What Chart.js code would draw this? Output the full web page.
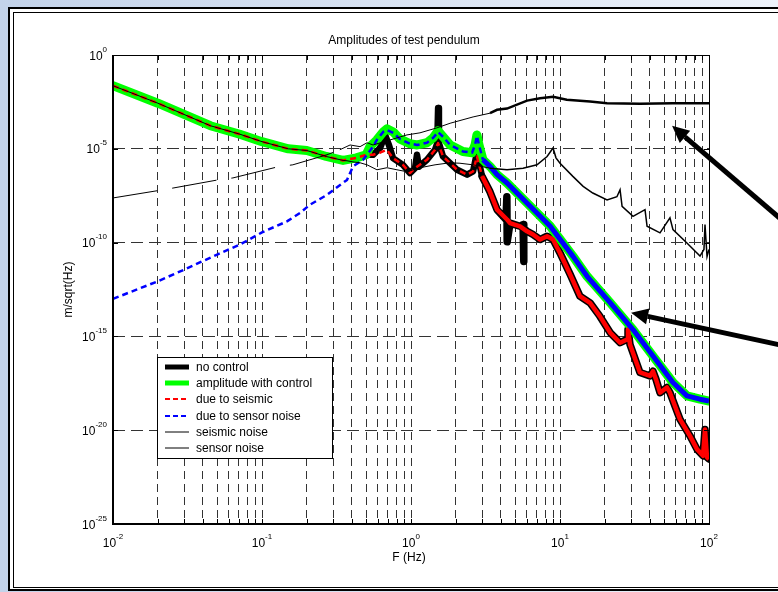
<!DOCTYPE html>
<html>
<head>
<meta charset="utf-8">
<script src="https://cdn.jsdelivr.net/npm/chart.js@4"></script>
<style>
  html, body { margin: 0; padding: 0; background: #fff; }
  #wrap { width: 778px; height: 592px; }
</style>
</head>
<body>
<div id="wrap"><canvas id="chart" width="778" height="592"></canvas></div>
<script>
/* ---- axes / ticks ---- */
const xDecades = [0.01, 0.1, 1, 10, 100];
const xExponents = ['-2', '-1', '0', '1', '2'];
const yDecades = [1, 1e-5, 1e-10, 1e-15, 1e-20, 1e-25];
const yExponents = ['0', '-5', '-10', '-15', '-20', '-25'];
const minorSteps = [1, 2, 3, 4, 5, 6, 7, 8, 9];

/* ---- data (F in Hz, amplitude in m/sqrt(Hz)) ---- */
// low-frequency part, where all seismic-driven curves coincide
const lowF = [0.01, 0.02, 0.045, 0.071, 0.1, 0.15, 0.2, 0.27, 0.35, 0.43, 0.5];
const lowA = [2.3e-2, 2.7e-3, 1.7e-4, 6.0e-5, 2.4e-5, 1.0e-5, 8.1e-6, 3.9e-6, 2.4e-6, 3.3e-6, 4.8e-6];

const noControlF = [0.556, 0.62, 0.67, 0.711, 0.757, 0.883, 0.984, 1.064, 1.097, 1.13, 1.28, 1.45, 1.50, 1.52, 1.54, 1.64, 2.04, 2.38, 2.61, 2.77, 3.0,
  3.39, 3.78, 4.34, 4.40, 4.42, 4.62, 5.39, 5.65, 5.70, 5.73, 6.01, 6.59, 7.35, 8.19, 8.98, 10, 11.7, 13.6, 15.9, 18.5,
  21.7, 25.3, 28.2, 28.6, 29.5, 34.4, 40.2, 42.1, 44.1, 46.9, 52.2, 54.7, 63.8, 74.5, 83.0, 91.2, 94.0, 97.0, 100];
const noControlA = [4.8e-6, 1.1e-5, 5.5e-5, 1.6e-5, 3.2e-6, 1.4e-6, 5.1e-7, 9.3e-7, 4.8e-6, 1.1e-6, 2.6e-6, 8.9e-6, 2.0e-5, 1.5e-3, 2.0e-5, 3.9e-6, 7.6e-7, 4.2e-7, 6.2e-7, 6.2e-6, 3.4e-7,
  5.1e-8, 5.7e-9, 1.7e-9, 2.8e-8, 1.1e-10, 1.1e-9, 7.4e-10, 9.1e-10, 9.8e-12, 5.5e-10, 4.0e-10, 2.7e-10, 1.45e-10, 2.2e-10, 1.45e-10, 2.8e-11, 2.0e-12, 1.4e-13, 6.2e-14, 1.2e-14,
  1.6e-15, 4.6e-16, 6.9e-16, 2.3e-15, 3.7e-16, 1.2e-17, 7.8e-18, 1.4e-17, 5.1e-18, 1.0e-18, 1.9e-18, 1.0e-18, 3.9e-20, 5.0e-21, 9.8e-22, 4.3e-22, 1.1e-20, 3.6e-22, 2.9e-22];

const withControlF = [0.53, 0.59, 0.65, 0.69, 0.76, 0.84, 0.98, 1.1, 1.28, 1.41, 1.52, 1.64, 1.83, 2.23, 2.57, 2.69, 2.77, 2.86, 3.04, 3.39,
  3.78, 4.41, 6.0, 8.6, 12.2, 15.2, 21.7, 30.9, 42.1, 57.3, 71.1, 87, 100];
const withControlA = [1.3e-5, 3.0e-5, 7.9e-5, 1.15e-4, 7.9e-5, 3.4e-5, 1.9e-5, 1.6e-5, 2.1e-5, 3.9e-5, 9.1e-5, 4.4e-5, 1.6e-5, 7.2e-6, 6.2e-6, 1.6e-5, 5.5e-5, 1.6e-5, 2.6e-6, 1.15e-6,
  4.2e-7, 1.5e-7, 1.3e-8, 7.4e-10, 1.9e-11, 1.6e-12, 6.3e-14, 2.3e-15, 8.9e-17, 3.5e-18, 6.8e-19, 4.5e-19, 3.6e-19];

const seismicDueF = [0.556, 0.62, 0.69, 0.757, 0.883, 0.984, 1.064, 1.28, 1.45, 1.52, 1.64, 2.04, 2.38, 2.61, 2.77, 3.0, 3.39, 3.78, 4.41, 4.62,
  5.39, 6.01, 6.59, 7.35, 8.19, 8.98, 10, 11.7, 13.6, 15.9, 18.5, 21.7, 25.3, 28.2, 28.6, 29.5, 34.4, 40.2, 42.1, 44.1,
  46.9, 52.2, 54.7, 63.8, 74.5, 83.0, 91.2, 94.0, 97.0, 100];
const seismicDueA = [4.8e-6, 6.2e-6, 8.9e-6, 3.2e-6, 1.4e-6, 5.1e-7, 9.3e-7, 2.6e-6, 8.9e-6, 2.0e-5, 3.9e-6, 7.6e-7, 4.2e-7, 6.2e-7, 3.9e-6, 3.4e-7, 5.1e-8, 5.7e-9, 1.7e-9, 1.1e-9,
  7.4e-10, 4.0e-10, 2.7e-10, 1.45e-10, 2.2e-10, 1.45e-10, 2.8e-11, 2.0e-12, 1.4e-13, 6.2e-14, 1.2e-14, 1.6e-15, 4.6e-16, 6.9e-16, 2.3e-15, 3.7e-16, 1.2e-17, 7.8e-18, 1.4e-17, 5.1e-18,
  1.0e-18, 1.9e-18, 1.0e-18, 3.9e-20, 5.0e-21, 9.8e-22, 4.3e-22, 1.1e-20, 3.6e-22, 2.9e-22];

const sensorDueF = [0.01, 0.02, 0.03, 0.05, 0.071, 0.1, 0.147, 0.18, 0.21, 0.273, 0.372, 0.408, 0.477, 0.556, 0.59, 0.65, 0.69, 0.76, 0.84, 0.98,
  1.1, 1.28, 1.41, 1.52, 1.64, 1.83, 2.23, 2.57, 2.69, 2.77, 2.86, 3.04, 3.39, 3.78, 4.41, 6.0, 8.6, 12.2, 15.2, 21.7,
  30.9, 42.1, 57.3, 71.1, 87, 100];
const sensorDueA = [1.0e-13, 8.7e-13, 3.6e-12, 2.3e-11, 7.8e-11, 3.5e-10, 1.35e-9, 3.8e-9, 1.05e-8, 3.5e-8, 2.2e-7, 1.15e-6, 2.6e-6, 1.3e-5, 3.0e-5, 7.9e-5, 1.0e-4, 7.1e-5, 3.4e-5, 1.9e-5,
  1.6e-5, 2.1e-5, 3.9e-5, 7.9e-5, 4.4e-5, 1.6e-5, 7.2e-6, 6.2e-6, 1.6e-5, 4.9e-5, 1.6e-5, 2.6e-6, 1.15e-6, 4.2e-7, 1.5e-7, 1.3e-8, 7.4e-10, 1.9e-11, 1.6e-12, 6.3e-14,
  2.3e-15, 8.9e-17, 3.5e-18, 6.8e-19, 4.5e-19, 3.6e-19];

const seismicNoiseF = [0.372, 0.408, 0.455, 0.507, 0.591, 0.69, 0.805, 0.94, 1.149, 1.45, 1.83, 2.13, 2.61, 3.39, 4.41, 5.65, 7.01, 8.19, 8.98, 9.4,
  10, 12.2, 14.3, 16.6, 20.7, 24.1, 25.3, 26.1, 30.9, 37.2, 38.4, 46.9, 54.7, 57.3, 71.1, 87.0, 92.5, 94.0, 97.0, 100];
const seismicNoiseA = [2.3e-6, 2.0e-6, 1.8e-6, 1.4e-6, 7.6e-7, 9.8e-7, 7.6e-7, 6.0e-7, 9.8e-7, 1.4e-6, 1.8e-6, 1.7e-6, 1.4e-6, 9.3e-7, 7.6e-7, 9.3e-7, 1.4e-6, 3.9e-6, 1.1e-5, 3.3e-6,
  1.7e-6, 3.4e-7, 1.0e-7, 4.4e-8, 1.9e-8, 2.8e-8, 6.6e-8, 8.5e-9, 2.5e-9, 5.7e-9, 7.4e-10, 3.3e-10, 2.1e-9, 4.9e-10, 9.5e-11, 1.9e-11, 4.3e-11, 9.1e-10, 1.8e-11, 4.3e-11];

const sensorNoiseF = [0.01, 0.02, 0.0253, 0.0506, 0.0638, 0.128, 0.161, 0.273, 0.333, 0.39, 0.455, 0.507, 0.556, 0.94, 1.149, 1.49, 1.83, 2.61, 3.39, 3.78,
  4.41, 6.01, 7.35, 8.98, 11.1, 15.9, 20.7, 34.4, 57.3, 100];
const sensorNoiseA = [2.4e-8, 5.9e-8, 8.1e-8, 2.2e-7, 2.8e-7, 1.1e-6, 1.4e-6, 4.8e-6, 8.9e-6, 1.6e-5, 1.3e-5, 2.1e-5, 1.6e-5, 5.5e-5, 7.1e-5, 1.3e-4, 2.3e-4, 5.0e-4, 7.9e-4, 1.2e-3,
  1.4e-3, 3.7e-3, 5.0e-3, 6.0e-3, 4.1e-3, 3.3e-3, 2.7e-3, 2.5e-3, 2.7e-3, 2.7e-3];

// annotation arrows: [tail F, tail A, tip F, tip A]
const arrowSensor = [350, 6.8e-10, 56.5, 1.67e-4];
const arrowControl = [350, 2.7e-16, 30, 1.8e-14];

/* ---- style helpers ---- */
const FONT = '"Liberation Sans", Arial, sans-serif';
const NOISY_FROM = 3;   // above ~3 Hz the measured traces are dense/noisy and look thicker
const pts = (f, a) => f.map((v, i) => ({ x: v, y: a[i] }));
const hi = (ctx) => ctx.p0.parsed.x >= NOISY_FROM;

const legendSamples = [
  { width: 5, dash: [] },
  { width: 5, dash: [] },
  { width: 2, dash: [5, 3] },
  { width: 2, dash: [5, 3] },
  { width: 1, dash: [] },
  { width: 1, dash: [] },
];

const datasets = [
  {
    label: 'no control', data: pts(lowF.concat(noControlF), lowA.concat(noControlA)),
    borderColor: '#000000', order: 6, borderJoinStyle: 'round', borderCapStyle: 'round',
    segment: { borderWidth: ctx => hi(ctx) ? 7.5 : 6.5 },
  },
  {
    label: 'amplitude with control', data: pts(lowF.concat(withControlF), lowA.concat(withControlA)),
    borderColor: '#00ff00', borderWidth: 9, order: 5, borderJoinStyle: 'round', borderCapStyle: 'round',
  },
  {
    label: 'due to seismic', data: pts(lowF.concat(seismicDueF), lowA.concat(seismicDueA)),
    borderColor: '#ff0000', order: 4, borderJoinStyle: 'round',
    segment: { borderWidth: ctx => hi(ctx) ? 4.5 : 2.5, borderDash: ctx => hi(ctx) ? [] : [6, 4] },
  },
  {
    label: 'due to sensor noise', data: pts(sensorDueF, sensorDueA),
    borderColor: '#0000ff', order: 3, borderJoinStyle: 'round',
    segment: { borderWidth: ctx => hi(ctx) ? 5 : 2.5, borderDash: ctx => hi(ctx) ? [] : [6, 4] },
  },
  {
    label: 'seismic noise', data: pts(lowF.slice(0, 9).concat(seismicNoiseF), lowA.slice(0, 9).concat(seismicNoiseA)),
    borderColor: '#000000', order: 2,
    segment: { borderWidth: ctx => hi(ctx) ? 1.5 : 1 },
  },
  {
    label: 'sensor noise', data: pts(sensorNoiseF, sensorNoiseA),
    borderColor: '#000000', order: 1,
    segment: {
      borderWidth: ctx => hi(ctx) ? 2.5 : 1,
      borderDash: ctx => ctx.p0.parsed.x < 0.3 ? [45, 15] : [],
    },
  },
];

/* ---- plugins ---- */
const framePlugin = {
  id: 'frame',
  beforeDraw(chart) {
    const c = chart.ctx;
    c.save();
    const g = c.createLinearGradient(0, 0, chart.width, 0);
    g.addColorStop(0, '#c3d3ea');
    g.addColorStop(1, '#eef3fb');
    c.fillStyle = g;
    c.fillRect(0, 0, chart.width, chart.height);
    c.fillStyle = '#ffffff';
    c.fillRect(9, 8, chart.width, 582);
    c.strokeStyle = '#000';
    c.lineWidth = 2;
    c.strokeRect(9, 8, chart.width + 20, 582);
    c.lineWidth = 1;
    c.strokeRect(13.5, 12.5, chart.width + 20, 575);
    c.restore();
  },
};

function drawPow(c, exp, x, yBase, anchor) {
  c.font = '12px ' + FONT;
  const w1 = c.measureText('10').width;
  c.font = '8px ' + FONT;
  const w2 = c.measureText(exp).width;
  const x0 = anchor === 'right' ? x - w1 - w2 : x - (w1 + w2) / 2;
  c.font = '12px ' + FONT;
  c.fillText('10', x0, yBase);
  c.font = '8px ' + FONT;
  c.fillText(exp, x0 + w1, yBase - 8);
}

function drawArrow(chart, spec) {
  const c = chart.ctx, xs = chart.scales.x, ys = chart.scales.y;
  const x1 = xs.getPixelForValue(spec[0]), y1 = ys.getPixelForValue(spec[1]);
  const x2 = xs.getPixelForValue(spec[2]), y2 = ys.getPixelForValue(spec[3]);
  const ang = Math.atan2(y2 - y1, x2 - x1);
  const hl = 17, hw = 8;
  const bx = x2 - hl * Math.cos(ang), by = y2 - hl * Math.sin(ang);
  c.lineWidth = 5;
  c.beginPath(); c.moveTo(x1, y1); c.lineTo(bx, by); c.stroke();
  c.beginPath();
  c.moveTo(x2, y2);
  c.lineTo(bx + hw * Math.sin(ang), by - hw * Math.cos(ang));
  c.lineTo(bx - hw * Math.sin(ang), by + hw * Math.cos(ang));
  c.closePath(); c.fill();
}

const decorPlugin = {
  id: 'decor',
  afterDraw(chart) {
    const c = chart.ctx, a = chart.chartArea, xs = chart.scales.x, ys = chart.scales.y;
    c.save();
    c.strokeStyle = '#000'; c.fillStyle = '#000';

    // box
    c.lineWidth = 1;
    c.beginPath();
    c.moveTo(a.left, a.top + 0.5); c.lineTo(a.right + 0.5, a.top + 0.5); c.lineTo(a.right + 0.5, a.bottom);
    c.stroke();
    c.lineWidth = 2;
    c.beginPath();
    c.moveTo(a.left, a.top); c.lineTo(a.left, a.bottom); c.lineTo(a.right + 1, a.bottom);
    c.stroke();

    // inward tick marks
    c.lineWidth = 1;
    c.beginPath();
    xs.ticks.forEach(t => {
      const px = Math.round(xs.getPixelForValue(t.value)) + 0.5;
      c.moveTo(px, a.bottom); c.lineTo(px, a.bottom - 5);
      c.moveTo(px, a.top); c.lineTo(px, a.top + 5);
    });
    yDecades.forEach(v => {
      const py = Math.round(ys.getPixelForValue(v)) + 0.5;
      c.moveTo(a.left, py); c.lineTo(a.left + 5, py);
      c.moveTo(a.right, py); c.lineTo(a.right - 5, py);
    });
    c.stroke();

    // tick labels
    c.textAlign = 'left'; c.textBaseline = 'alphabetic';
    yDecades.forEach((v, i) => drawPow(c, yExponents[i], a.left - 6, ys.getPixelForValue(v) + 4.5, 'right'));
    xDecades.forEach((v, i) => drawPow(c, xExponents[i], xs.getPixelForValue(v), a.bottom + 23, 'center'));

    // title and axis labels
    c.font = '12px ' + FONT;
    c.textAlign = 'center';
    c.fillText('Amplitudes of test pendulum', (a.left + a.right) / 2 - 7, 44);
    c.fillText('F (Hz)', (a.left + a.right) / 2 - 2, 561);
    c.save();
    c.translate(72, (a.top + a.bottom) / 2);
    c.rotate(-Math.PI / 2);
    c.fillText('m/sqrt(Hz)', 0, 0);
    c.restore();

    // legend
    c.fillStyle = '#fff';
    c.fillRect(157, 357, 176, 102);
    c.lineWidth = 1;
    c.strokeRect(157.5, 357.5, 175, 101);
    c.font = '12px ' + FONT;
    c.textAlign = 'left'; c.textBaseline = 'middle';
    chart.data.datasets.forEach((ds, i) => {
      const y = Math.round(367 + i * 16.2);
      const s = legendSamples[i];
      c.strokeStyle = ds.borderColor;
      c.lineWidth = s.width;
      c.setLineDash(s.dash);
      c.beginPath(); c.moveTo(165, y); c.lineTo(189, y); c.stroke();
      c.setLineDash([]);
      c.fillStyle = '#000';
      c.fillText(ds.label, 196, y + 0.5);
    });

    // arrows
    c.strokeStyle = '#000'; c.fillStyle = '#000';
    c.beginPath(); c.rect(0, 0, chart.width, chart.height); c.clip();
    drawArrow(chart, arrowSensor);
    drawArrow(chart, arrowControl);
    c.restore();
  },
};

/* ---- chart ---- */
const xGrid = [];
xDecades.slice(0, -1).forEach(d => minorSteps.forEach(m => xGrid.push(+(d * m).toPrecision(3))));
xGrid.push(xDecades[xDecades.length - 1]);

new Chart(document.getElementById('chart'), {
  type: 'line',
  data: { datasets },
  options: {
    responsive: false,
    animation: false,
    events: [],
    layout: { padding: { left: 113, right: 69, top: 55, bottom: 68 } },
    elements: { point: { radius: 0 }, line: { tension: 0 } },
    plugins: { legend: { display: false }, tooltip: { enabled: false }, title: { display: false } },
    scales: {
      x: {
        type: 'logarithmic', min: 0.01, max: 100,
        afterBuildTicks: s => { s.ticks = xGrid.map(v => ({ value: v })); },
        ticks: { display: false },
        grid: { color: '#333', lineWidth: 1, drawTicks: false },
        border: { display: false, dash: [8, 5] },
      },
      y: {
        type: 'logarithmic', min: 1e-25, max: 1,
        afterBuildTicks: s => { s.ticks = yDecades.map(v => ({ value: v })); },
        ticks: { display: false },
        grid: { color: '#333', lineWidth: 1, drawTicks: false },
        border: { display: false, dash: [12, 6] },
      },
    },
  },
  plugins: [framePlugin, decorPlugin],
});
</script>
</body>
</html>
